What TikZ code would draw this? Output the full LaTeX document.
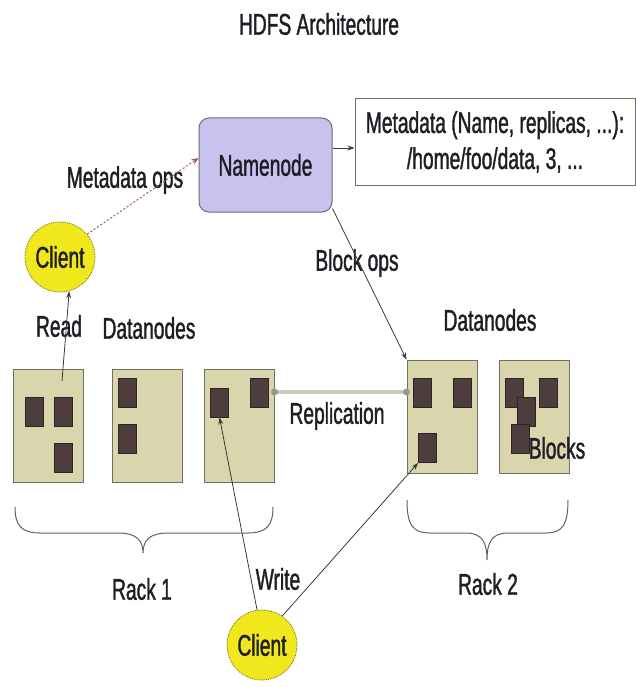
\documentclass[tikz,border=0pt]{standalone}
\usepackage{fontspec}
\setmainfont{Liberation Sans}[FakeStretch=0.64,FakeBold=1.2]
\usetikzlibrary{arrows.meta,shapes.geometric}
\definecolor{txt}{HTML}{1E1E24}
\definecolor{nnfill}{HTML}{C8C2EE}
\definecolor{nnline}{HTML}{6A6A7A}
\definecolor{dnfill}{HTML}{D9D6AE}
\definecolor{dnline}{HTML}{707064}
\definecolor{blkfill}{HTML}{4E3D3D}
\definecolor{blkline}{HTML}{2E2626}
\definecolor{clfill}{HTML}{F0E71C}
\definecolor{clline}{HTML}{6A6420}
\definecolor{lnk}{HTML}{3A3A3A}
\definecolor{metaop}{HTML}{A06060}
\definecolor{repl}{HTML}{C9C9BE}
\definecolor{repldot}{HTML}{9A9A88}
\begin{document}
\begin{tikzpicture}[x=1pt,y=-1pt,
  every node/.style={font=\fontsize{30}{36}\selectfont, text=txt},
  lbl/.style={inner sep=0pt},
  nnbox/.style={draw=nnline, line width=1pt, fill=nnfill, rounded corners=10pt, minimum width=133pt, minimum height=94pt, inner sep=0pt},
  metabox/.style={draw=dnline, line width=1pt, fill=white, minimum width=280pt, minimum height=86pt, inner sep=0pt, align=center},
  clientnode/.style={ellipse, draw=clline, line width=0.8pt, densely dotted, fill=clfill, minimum width=70pt, minimum height=70pt, inner sep=0pt},
  dnbox/.style={draw=dnline, line width=1pt, fill=dnfill, minimum width=70pt, minimum height=113pt, inner sep=0pt},
  blk/.style={draw=blkline, line width=0.8pt, fill=blkfill, minimum width=18pt, minimum height=29pt, inner sep=0pt},
  link/.style={draw=lnk, line width=0.8pt, -{Stealth[length=7pt,width=5pt]}},
  metalink/.style={draw=metaop, line width=1pt, dash pattern=on 2pt off 2pt, -{Stealth[length=7pt,width=6pt,fill=metaop!80!red]}},
  brace/.style={draw=lnk!80, line width=1pt}
]
\useasboundingbox (0,0) rectangle (636,687);

% title
\node[lbl] (title) at (319,24) {HDFS Architecture};

% namenode and metadata
\node[nnbox] (nn) at (265.5,165) {Namenode};
\node[metabox] (meta) at (495,142) {Metadata (Name, replicas, ...):\\/home/foo/data, 3, ...};

% clients
\node[clientnode] (client1) at (60,257) {Client};
\node[clientnode] (client2) at (262,645) {Client};

% datanodes rack 1
\node[dnbox] (dn1) at (48.5,425.5) {};
\node[dnbox] (dn2) at (147,425.5) {};
\node[dnbox] (dn3) at (239,425.5) {};
% datanodes rack 2
\node[dnbox] (dn4) at (442,416.5) {};
\node[dnbox] (dn5) at (534,416.5) {};

% blocks
\node[blk] (b11) at (34,411.5) {};
\node[blk] (b12) at (63,411.5) {};
\node[blk] (b13) at (63,457.5) {};
\node[blk] (b21) at (127,392.5) {};
\node[blk] (b22) at (127,439) {};
\node[blk] (b31) at (219.5,402.5) {};
\node[blk] (b32) at (259.5,392.5) {};
\node[blk] (b41) at (422,392.5) {};
\node[blk] (b42) at (462,392.5) {};
\node[blk] (b43) at (427.5,448) {};
\node[blk] (b51) at (514,392.5) {};
\node[blk] (b52) at (548.5,392.5) {};
\node[blk] (b53) at (526,411.5) {};
\node[blk] (b54) at (520,439) {};

% labels
\node[lbl] (lmeta) at (125,180) {Metadata ops};
\node[lbl] (lread) at (59,326) {Read};
\node[lbl] (ldn1) at (149,328) {Datanodes};
\node[lbl] (ldn2) at (490,320) {Datanodes};
\node[lbl] (lblock) at (357,263) {Block ops};
\node[lbl] (lrepl) at (337,416) {Replication};
\node[lbl] (lblocks) at (557,448) {Blocks};
\node[lbl] (lwrite) at (278,579) {Write};
\node[lbl] (lrack1) at (142,589) {Rack 1};
\node[lbl] (lrack2) at (488,584) {Rack 2};

% connectors
\draw[link] ([yshift=17pt]nn.east) -- ([yshift=-6pt]meta.west);
\draw[metalink] (client1.40) -- ([yshift=7pt]nn.west);
\coordinate (readstart) at (62,381);
\draw[link] (readstart) -- (client1.-75);
\draw[link] ([yshift=4pt]nn.south east) -- (dn4.north west);
\draw[repl, line width=4pt] ([yshift=33.5pt]dn3.east) -- ([yshift=24.5pt]dn4.west);
\fill[repldot] ([yshift=33.5pt]dn3.east) circle (3.5pt);
\fill[repldot] ([yshift=24.5pt]dn4.west) circle (3.5pt);
\draw[link] (client2.98) -- (b31.south);
\draw[link] (client2.55) -- (b43.south west);

% braces
\draw[brace] (15,507) .. controls (15,526) and (22,533) .. (40,533) -- (118,533)
  .. controls (136,533) and (143,540) .. (143,553)
  .. controls (143,540) and (150,533) .. (168,533) -- (248,533)
  .. controls (266,533) and (273,526) .. (273,507);
\draw[brace] (407,500) .. controls (407,524) and (412,533) .. (430,533) -- (466,533)
  .. controls (482,533) and (487,542) .. (487,560)
  .. controls (487,542) and (492,533) .. (508,533) -- (546,533)
  .. controls (563,533) and (568,524) .. (568,500);
\end{tikzpicture}
\end{document}
